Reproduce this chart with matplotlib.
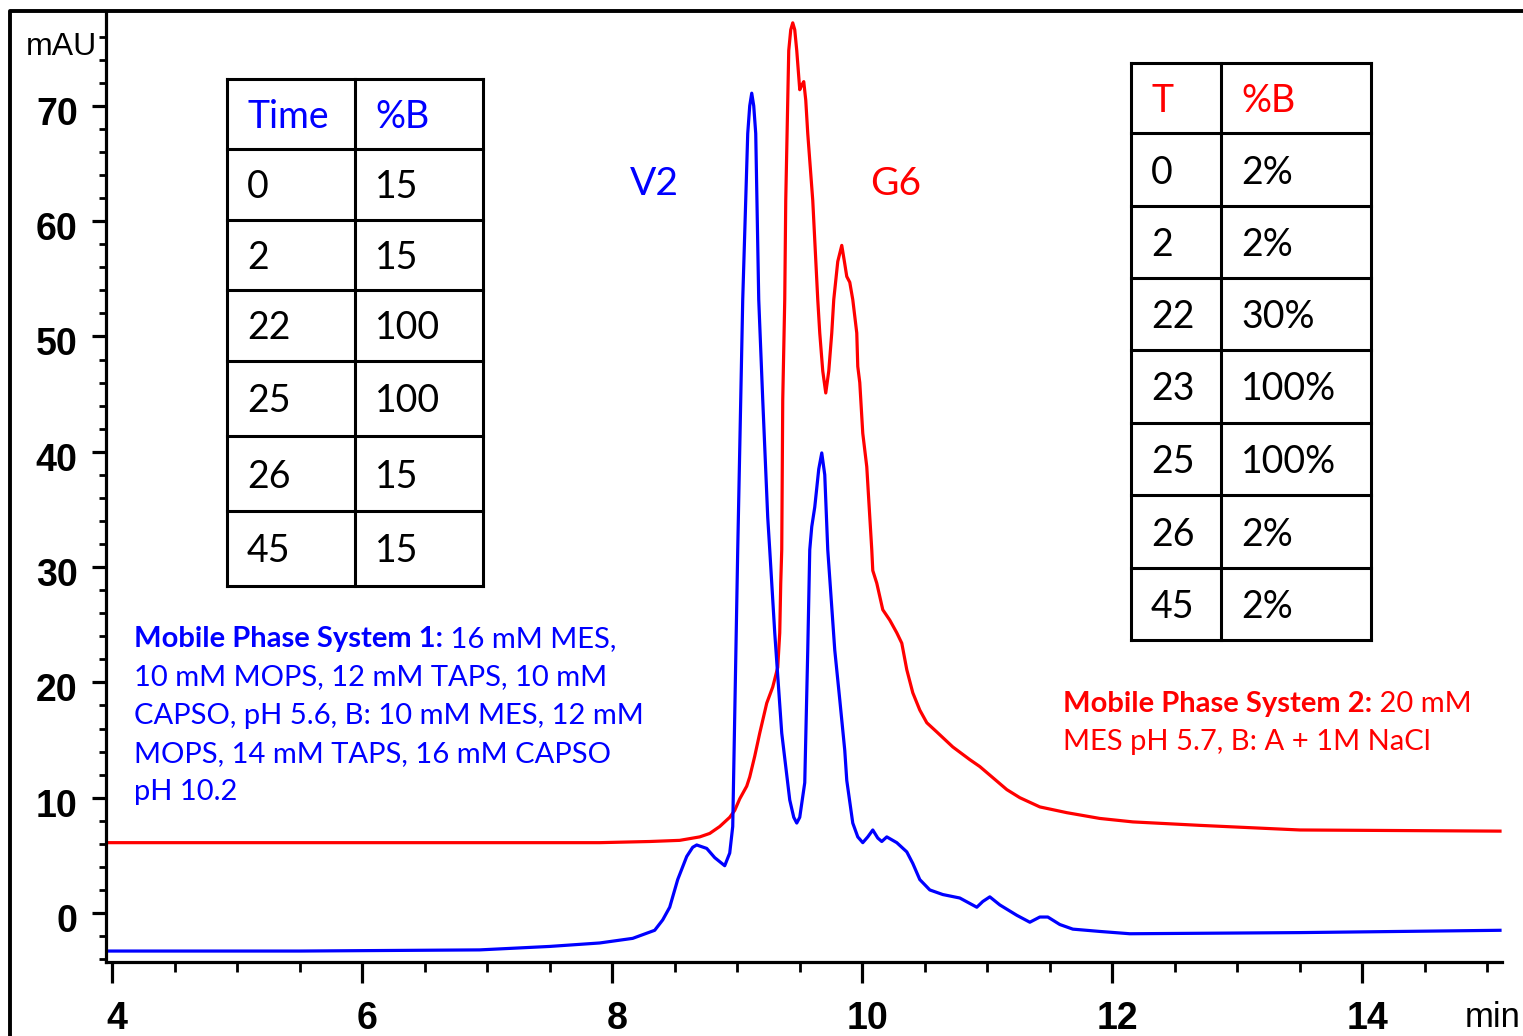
import numpy as np
import matplotlib
matplotlib.use('Agg')
from matplotlib import pyplot as plt
from matplotlib.lines import Line2D
from matplotlib.transforms import ScaledTranslation

# chromatogram traces (time in min, signal in mAU)
blue_t = [3.94, 5.5, 6.94, 7.5, 7.9, 8.164, 8.34, 8.404, 8.46, 8.524, 8.596, 8.644, 8.676, 8.756,
          8.82, 8.9, 8.94, 8.964, 9.004, 9.044, 9.084, 9.1, 9.116, 9.132, 9.148, 9.172, 9.204,
          9.244, 9.26, 9.3, 9.356, 9.42, 9.452, 9.476, 9.5, 9.54, 9.564, 9.58, 9.596, 9.62, 9.652,
          9.676, 9.7, 9.724, 9.78, 9.82, 9.86, 9.876, 9.924, 9.964, 10.004, 10.044, 10.084,
          10.124, 10.156, 10.196, 10.276, 10.356, 10.404, 10.46, 10.54, 10.644, 10.78, 10.916,
          10.964, 11.02, 11.1, 11.236, 11.34, 11.42, 11.484, 11.58, 11.684, 11.9, 12.14, 13.5, 15.1]
blue_v = [-3.3, -3.3, -3.2, -2.9, -2.6, -2.2, -1.5, -0.6, 0.5, 2.9, 4.9, 5.7, 5.9, 5.6,
          4.8, 4.1, 5.2, 7.5, 31.5, 53.2, 67.6, 70.0, 71.1, 70.0, 67.6, 53.2, 44.5,
          34.3, 31.5, 24.3, 15.6, 9.8, 8.3, 7.8, 8.3, 11.3, 22.8, 31.5, 33.5, 35.2, 38.5,
          39.9, 38.0, 31.5, 22.8, 18.5, 14.1, 11.5, 7.8, 6.6, 6.1, 6.6, 7.2,
          6.5, 6.2, 6.6, 6.1, 5.3, 4.3, 2.9, 2.0, 1.6, 1.3, 0.5,
          1.0, 1.4, 0.7, -0.2, -0.8, -0.35, -0.35, -1.0, -1.4, -1.6, -1.8, -1.7, -1.5]

red_t = [3.94, 7.9, 8.3, 8.54, 8.7, 8.78, 8.86, 8.94, 8.98, 9.02, 9.076, 9.1, 9.14, 9.18, 9.236,
         9.284, 9.324, 9.34, 9.348, 9.356, 9.364, 9.38, 9.388, 9.412, 9.428, 9.444, 9.46, 9.476,
         9.5, 9.516, 9.532, 9.548, 9.564, 9.604, 9.644, 9.66, 9.684, 9.708, 9.732, 9.756, 9.772,
         9.804, 9.836, 9.86, 9.876, 9.9, 9.924, 9.956, 9.964, 9.98, 10.004, 10.036, 10.052,
         10.076, 10.084, 10.116, 10.164, 10.22, 10.276, 10.316, 10.356, 10.404, 10.46, 10.516,
         10.596, 10.724, 10.86, 10.94, 11.156, 11.26, 11.42, 11.636, 11.9, 12.164, 12.7, 13.5, 15.1]
red_v = [6.1, 6.1, 6.2, 6.3, 6.6, 6.9, 7.5, 8.3, 8.9, 9.9, 11.0, 11.8, 13.6, 15.6, 18.2,
         19.6, 21.3, 24.3, 28.6, 31.5, 44.5, 53.2, 61.8, 74.8, 76.6, 77.2, 76.6, 74.8,
         71.4, 71.8, 72.1, 70.5, 67.6, 61.8, 53.2, 50.3, 47.0, 45.1, 47.0, 50.3, 53.2,
         56.5, 57.9, 56.3, 55.2, 54.7, 53.2, 50.3, 47.4, 46.0, 41.6, 38.7, 35.8,
         31.5, 29.7, 28.6, 26.3, 25.4, 24.3, 23.4, 21.1, 19.1, 17.6, 16.5,
         15.7, 14.4, 13.3, 12.7, 10.7, 10.0, 9.2, 8.7, 8.2, 7.9, 7.6, 7.2, 7.1]

# gradient tables
t1_head = ['Time', '%B']
t1_time = ['0', '2', '22', '25', '26', '45']
t1_pb = ['15', '15', '100', '100', '15', '15']

t2_head = ['T', '%B']
t2_time = ['0', '2', '22', '23', '25', '26', '45']
t2_pb = ['2%', '2%', '30%', '100%', '100%', '2%', '2%']

sys1_bold = 'Mobile Phase System 1:'
sys1_lines = [' 16 mM MES,', '10 mM MOPS, 12 mM TAPS, 10 mM', 'CAPSO, pH 5.6, B: 10 mM MES, 12 mM',
              'MOPS, 14 mM TAPS, 16 mM CAPSO', 'pH 10.2']
sys2_bold = 'Mobile Phase System 2:'
sys2_lines = [' 20 mM', 'MES pH 5.7, B: A + 1M NaCl']

W, H = 1523, 1036
fig = plt.figure(figsize=(W / 100, H / 100), dpi=100)


def fx(px):
    return px / W


def fy(py):
    return 1 - py / H


ax = fig.add_axes([fx(105.5), fy(962), fx(1502 - 105.5), (962 - 12) / H])
ax.plot(red_t, red_v, color='#ff0000', lw=2.3, solid_joinstyle='round')
ax.plot(blue_t, blue_v, color='#0000ff', lw=2.3, solid_joinstyle='round')
ax.set_xlim(3.948, 15.116)
ax.set_ylim(-4.25, 78.14)

for s in ['top', 'right']:
    ax.spines[s].set_visible(False)
for s in ['left', 'bottom']:
    ax.spines[s].set_linewidth(2.3)

ax.set_xticks(np.arange(4, 15, 2))
ax.set_xticks(np.arange(4, 15.2, 0.5), minor=True)
ax.set_yticks(np.arange(0, 71, 10))
ax.set_yticks(np.arange(-4, 78, 2), minor=True)
ax.tick_params(which='major', axis='x', length=15, width=2.3, pad=13)
ax.tick_params(which='minor', axis='x', length=7, width=2)
ax.tick_params(which='major', axis='y', length=10, width=2.3, pad=10)
ax.tick_params(which='minor', axis='y', length=5, width=2)
tick_font = dict(family='Liberation Sans', weight='bold', size=27)
for lab in ax.get_xticklabels():
    lab.set(**tick_font)
    lab.set_transform(lab.get_transform() + ScaledTranslation(5 / 100, 0, fig.dpi_scale_trans))
for lab in ax.get_yticklabels():
    lab.set(**tick_font)
    lab.set_transform(lab.get_transform() + ScaledTranslation(0, -5 / 100, fig.dpi_scale_trans))

fig.text(fx(97), fy(55), 'mAU', ha='right', va='baseline', family='Liberation Sans', size=23)
fig.text(fx(1521), fy(1027), 'min', ha='right', va='baseline', family='Liberation Sans', size=25)

# outer frame
fig.add_artist(Line2D([fx(10), fx(10), 1.0], [0.0, fy(11), fy(11)], transform=fig.transFigure,
                      color='black', lw=2.8))

txt = dict(family='Lato', size=27)


def table(xs, ys, head, col1, col2, head_color):
    for x in xs:
        fig.add_artist(Line2D([fx(x), fx(x)], [fy(ys[0]), fy(ys[-1])], transform=fig.transFigure,
                              color='black', lw=2.2))
    for y in ys:
        fig.add_artist(Line2D([fx(xs[0]), fx(xs[-1])], [fy(y), fy(y)], transform=fig.transFigure,
                              color='black', lw=2.2))
    rows = [head] + list(zip(col1, col2))
    for i, (a, b) in enumerate(rows):
        yc = (ys[i] + ys[i + 1]) / 2 + 14
        c = head_color if i == 0 else 'black'
        fig.text(fx(xs[0] + 20), fy(yc), a, color=c, va='baseline', **txt)
        fig.text(fx(xs[1] + 20), fy(yc), b, color=c, va='baseline', **txt)


table([227, 355, 483], [79, 149, 220, 290, 361, 436, 511, 586], t1_head, t1_time, t1_pb, '#0000ff')
table([1131, 1221, 1371], [63, 133, 206, 278, 350, 423, 495, 568, 640], t2_head, t2_time, t2_pb, '#ff0000')

fig.text(fx(630), fy(195), 'V2', color='#0000ff', va='baseline', family='Lato', size=28)
fig.text(fx(870), fy(195), 'G6', color='#ff0000', va='baseline', family='Lato', size=28)

renderer = fig.canvas.get_renderer()
note = dict(family='Lato', size=21)


def note_block(x0, y0, bold, lines, color, step=38.3):
    b = fig.text(fx(x0), fy(y0), bold, color=color, va='baseline', weight='bold', **note)
    bb = b.get_window_extent(renderer=renderer)
    fig.text(bb.x1 / W, fy(y0), lines[0], color=color, va='baseline', **note)
    for i, line in enumerate(lines[1:], start=1):
        fig.text(fx(x0), fy(y0 + i * step), line, color=color, va='baseline', **note)


note_block(134, 647, sys1_bold, sys1_lines, '#0000ff')
note_block(1063, 712, sys2_bold, sys2_lines, '#ff0000')

fig.savefig('out.png', dpi=100)
